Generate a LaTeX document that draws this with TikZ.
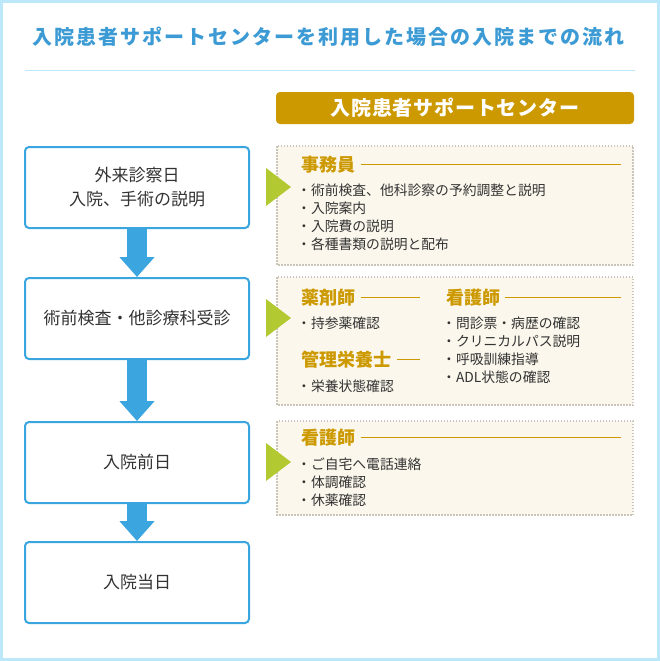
\documentclass[tikz,border=0pt]{standalone}
\usepackage{fontspec}
\setmainfont{Noto Sans CJK JP}
\usetikzlibrary{arrows.meta}
\usetikzlibrary{positioning}

\definecolor{frameblue}{HTML}{BDE8FA}
\definecolor{titleblue}{HTML}{3C9BD4}
\definecolor{boxblue}{HTML}{3AA5DE}
\definecolor{gold}{HTML}{CC9900}
\definecolor{leafgreen}{HTML}{B3C931}
\definecolor{cream}{HTML}{FBF7EC}
\definecolor{dotgray}{HTML}{C9C5BA}
\definecolor{inkgray}{HTML}{333333}

\begin{document}
\begin{tikzpicture}[x=1pt, y=-1pt
    , every node/.style={inner sep=0pt, text=inkgray}
    , stepbox/.style={draw=boxblue
        , line width=2pt
        , rounded corners=4pt
        , fill=white
        , minimum width=224pt
        , minimum height=81pt
        , align=center
        , font=\fontsize{17}{24}\selectfont}
    , flow/.style={boxblue
        , line width=20pt
        , -{Triangle[width=34pt, length=20pt]}}
    , pointer/.style={fill=leafgreen}
    , panel/.style={fill=cream
        , draw=dotgray
        , line width=1.5pt
        , dash pattern=on 1.5pt off 1.5pt}
    , role/.style={anchor=base west
        , text=gold
        , font=\fontsize{18}{18}\selectfont\bfseries}
    , rule/.style={draw=gold, line width=1pt}
    , item/.style={anchor=base west
        , font=\fontsize{13.8}{18}\selectfont}
    ]

    \useasboundingbox (0,0) rectangle (660,661);
    \fill[white] (0,0) rectangle (660,661);
    \draw[frameblue, line width=3pt] (1.5,1.5) rectangle (658.5,659.5);

    %% Title and separator
    \node[anchor=base
        , text=titleblue
        , font=\fontsize{20}{20}\selectfont\bfseries\addfontfeatures{LetterSpace=10}
    ] (title) at (328,45) {入院患者サポートセンターを利用した場合の入院までの流れ};
    \coordinate (sepl) at (25,71);
    \coordinate (sepr) at (635,71);
    \draw[frameblue, line width=1pt] (sepl) -- (sepr);

    % Header bar of the support center
    \node[fill=gold
        , rounded corners=4pt
        , minimum width=358pt
        , minimum height=32pt
        , text=white
        , font=\fontsize{20}{20}\selectfont\bfseries\addfontfeatures{LetterSpace=4}
    ] (center) at (455,108) {入院患者サポートセンター};

    %% Steps on the left
    \node[stepbox] (visit) at (137,187.5) {外来診察日\\入院、手術の説明};
    \node[stepbox] (tests) at (137,318.5) {術前検査・他診療科受診};
    \node[stepbox] (eve) at (137,462.5) {入院前日};
    \node[stepbox] (admit) at (137,582.5) {入院当日};

    % Now the arrows between them
    \draw[flow] (visit.south) -- (tests.north);
    \draw[flow] (tests.south) -- (eve.north);
    \draw[flow] (eve.south) -- (admit.north);

    %% Panels on the right
    \draw[panel] (277,146) rectangle (633,265);
    \draw[panel] (277,277) rectangle (633,405);
    \draw[panel] (277,421) rectangle (633,515);

    \fill[pointer] (266,168) -- (291,187) -- (266,206) -- cycle;
    \fill[pointer] (266,299) -- (291,318) -- (266,337) -- cycle;
    \fill[pointer] (266,443) -- (291,462) -- (266,481) -- cycle;

    \coordinate (edge) at (621,0);
    \coordinate (midedge) at (420,0);

    % Clerk
    \node[role] (clerk) at (301,171.8) {事務員};
    \draw[rule] ([xshift=6pt]clerk.east) -- (clerk.east -| edge);
    \foreach \txt [count=\i from 0] in {・術前検査、他科診察の予約調整と説明
        , ・入院案内
        , ・入院費の説明
        , ・各種書類の説明と配布}
        \node[item] (clerk-\i) at (297,195.2+18*\i) {\txt};

    % Pharmacist and dietitian
    \node[role] (pharm) at (301,304.8) {薬剤師};
    \draw[rule] ([xshift=6pt]pharm.east) -- (pharm.east -| midedge);
    \node[item] (pharm-0) at (297,328.2) {・持参薬確認};
    \node[role] (diet) at (301,366.8) {管理栄養士};
    \draw[rule] ([xshift=6pt]diet.east) -- (diet.east -| midedge);
    \node[item] (diet-0) at (297,391.2) {・栄養状態確認};

    % Nurse
    \node[role] (nurse) at (446,304.8) {看護師};
    \draw[rule] ([xshift=5pt]nurse.east) -- (nurse.east -| edge);
    \foreach \txt [count=\i from 0] in {・問診票・病歴の確認
        , ・クリニカルパス説明
        , ・呼吸訓練指導
        , ・ADL状態の確認}
        \node[item] (nurse-\i) at (442,328.2+18*\i) {\txt};

    % Nurse, the day before
    \node[role] (call) at (301,444.8) {看護師};
    \draw[rule] ([xshift=6pt]call.east) -- (call.east -| edge);
    \foreach \txt [count=\i from 0] in {・ご自宅へ電話連絡
        , ・体調確認
        , ・休薬確認}
        \node[item] (call-\i) at (297,469.2+18*\i) {\txt};

\end{tikzpicture}
\end{document}
